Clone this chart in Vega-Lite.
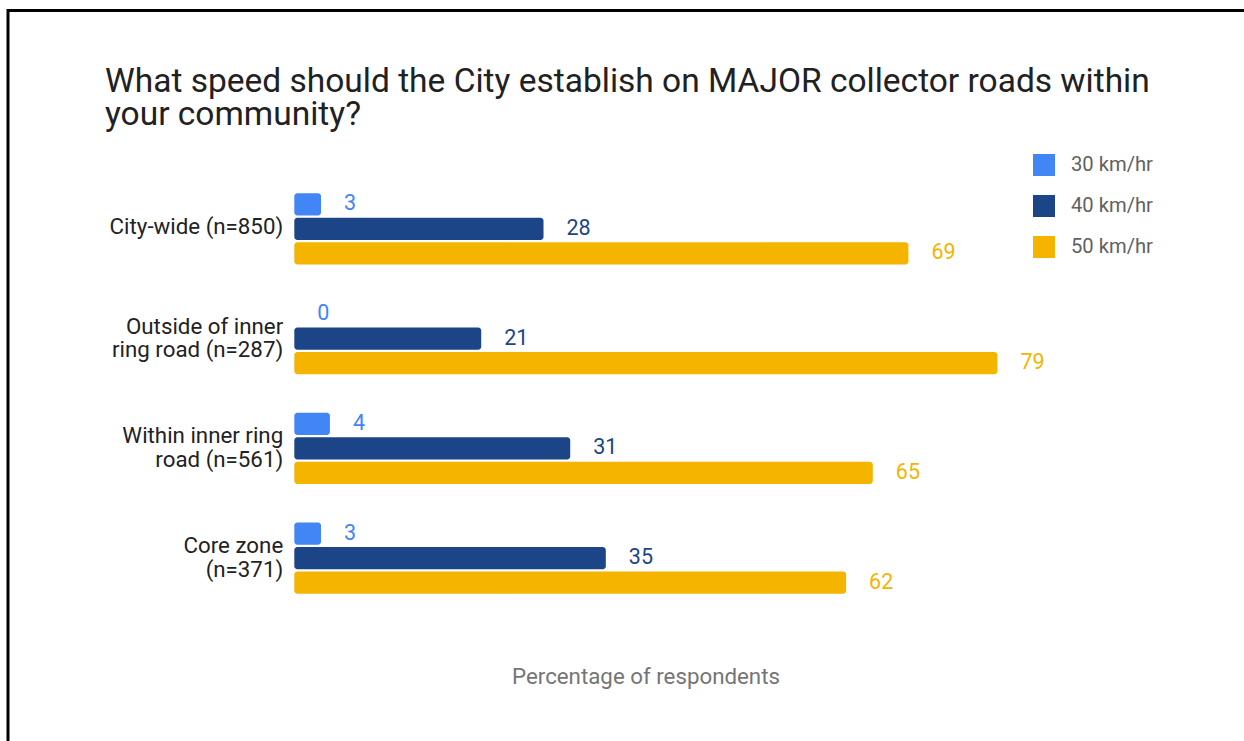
{
  "$schema": "https://vega.github.io/schema/vega-lite/v6.json",
  "width": 1280,
  "height": 742,
  "autosize": {"type": "none"},
  "padding": {"left": 8, "top": 10.5, "right": -44, "bottom": -12},
  "background": "white",
  "title": {
    "text": ["What speed should the City establish on MAJOR collector roads within", "your community?"],
    "anchor": "start",
    "frame": "group",
    "dx": 97,
    "offset": -123,
    "font": "Roboto",
    "fontSize": 33.5,
    "fontWeight": "normal",
    "color": "#212121",
    "lineHeight": 33
  },
  "config": {
    "view": {"stroke": null},
    "font": "Roboto"
  },
  "datasets": {
    "survey": [
      {"region": "City-wide (n=850)", "speed": "30 km/hr", "value": 3},
      {"region": "City-wide (n=850)", "speed": "40 km/hr", "value": 28},
      {"region": "City-wide (n=850)", "speed": "50 km/hr", "value": 69},
      {"region": "Outside of inner|ring road (n=287)", "speed": "30 km/hr", "value": 0},
      {"region": "Outside of inner|ring road (n=287)", "speed": "40 km/hr", "value": 21},
      {"region": "Outside of inner|ring road (n=287)", "speed": "50 km/hr", "value": 79},
      {"region": "Within inner ring|road (n=561)", "speed": "30 km/hr", "value": 4},
      {"region": "Within inner ring|road (n=561)", "speed": "40 km/hr", "value": 31},
      {"region": "Within inner ring|road (n=561)", "speed": "50 km/hr", "value": 65},
      {"region": "Core zone|(n=371)", "speed": "30 km/hr", "value": 3},
      {"region": "Core zone|(n=371)", "speed": "40 km/hr", "value": 35},
      {"region": "Core zone|(n=371)", "speed": "50 km/hr", "value": 62}
    ],
    "frame": [{"name": "frame"}]
  },
  "layer": [
    {
      "data": {"name": "frame"},
      "mark": {"type": "rect", "fill": null, "stroke": "#000000", "strokeWidth": 3},
      "encoding": {}
    },
    {
      "data": {"name": "survey"},
      "encoding": {
        "y": {
          "field": "region",
          "type": "nominal",
          "sort": ["City-wide (n=850)", "Outside of inner|ring road (n=287)", "Within inner ring|road (n=561)", "Core zone|(n=371)"],
          "scale": {"paddingInner": 0.35, "paddingOuter": 0.175, "range": [163.5, 602.4]},
          "axis": {
            "title": null,
            "orient": "left",
            "offset": -286.3,
            "ticks": false,
            "domain": false,
            "grid": false,
            "labelPadding": 11.6,
            "labelFont": "Roboto",
            "labelFontSize": 22.3,
            "labelColor": "#222222",
            "labelExpr": "split(datum.label, '|')",
            "labelLineHeight": 23.5,
            "labelOffset": {"condition": {"test": "indexof(datum.value, '|') >= 0", "value": -12}, "value": -1.5},
            "labelLimit": 0
          }
        },
        "yOffset": {
          "field": "speed",
          "type": "nominal",
          "sort": ["30 km/hr", "40 km/hr", "50 km/hr"],
          "scale": {"paddingInner": 0.09, "paddingOuter": 0}
        },
        "x": {
          "field": "value",
          "type": "quantitative",
          "stack": null,
          "scale": {"domain": [-32.17, 111.65], "nice": false, "zero": false},
          "axis": {
            "title": "Percentage of respondents",
            "labels": false,
            "ticks": false,
            "domain": false,
            "grid": false,
            "offset": -87,
            "titlePadding": 0,
            "titleX": 637.5,
            "titleFont": "Roboto",
            "titleFontSize": 22.3,
            "titleFontWeight": "normal",
            "titleColor": "#757575"
          }
        },
        "color": {
          "field": "speed",
          "type": "nominal",
          "scale": {"domain": ["30 km/hr", "40 km/hr", "50 km/hr"], "range": ["#4285F4", "#1C4587", "#F4B400"]},
          "legend": {
            "title": null,
            "orient": "none",
            "legendX": 1025,
            "legendY": 143.5,
            "symbolType": "square",
            "symbolSize": 484,
            "symbolStrokeWidth": 0,
            "labelFont": "Roboto",
            "labelFontSize": 20.2,
            "labelColor": "#616161",
            "labelOffset": 16,
            "rowPadding": 19
          }
        }
      },
      "layer": [
        {
          "mark": {"type": "bar", "cornerRadiusEnd": 3},
          "encoding": {"x2": {"datum": 0}}
        },
        {
          "mark": {"type": "text", "align": "left", "baseline": "middle", "dx": 23, "dy": 0, "fontSize": 21.5, "font": "Roboto"},
          "encoding": {"text": {"field": "value", "type": "quantitative"}}
        }
      ]
    }
  ]
}
